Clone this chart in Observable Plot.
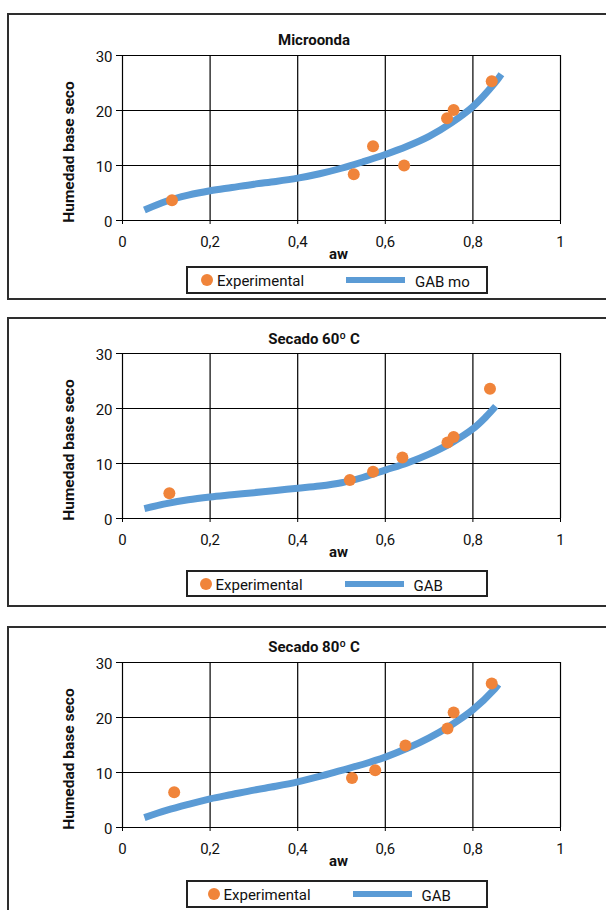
<!DOCTYPE html>
<html>
<head>
<meta charset="utf-8">
<script src="https://cdn.jsdelivr.net/npm/d3@7"></script>
<script src="https://cdn.jsdelivr.net/npm/@observablehq/plot@0.6"></script>
<style>
  body { margin: 0; background: #fff; font-family: Roboto, "Liberation Sans", sans-serif; color: #111; }
  #page { position: relative; width: 606px; height: 910px; overflow: hidden; }
  .box { position: absolute; left: 7px; width: 640px; border: 2px solid #2e2e2e; box-sizing: border-box; }
  .title { position: absolute; left: 214px; width: 200px; text-align: center; font-weight: bold; font-size: 15px; line-height: 18px; }
  .plot { position: absolute; left: 0; }
  .legend { position: absolute; left: 186px; width: 302px; border: 2px solid #222; box-sizing: border-box; background: #fff; }
  .legend .dot { position: absolute; width: 12px; height: 12px; border-radius: 50%; background: #F0843A; }
  .legend .sw { position: absolute; height: 6px; background: #5B9BD5; }
  .legend .lab { position: absolute; font-size: 15px; line-height: 18px; white-space: nowrap; }
</style>
</head>
<body>
<div id="page"></div>
<script>
// ---- shared axis values ----
const awTicks = [0, 0.2, 0.4, 0.6, 0.8, 1];
const yTicks = [0, 10, 20, 30];
const xLabel = "aw";
const yLabel = "Humedad base seco";
const expLabel = "Experimental";

// ---- Panel 1: Microonda ----
const microTitle = "Microonda";
const microGabLabel = "GAB mo";
const microExpAw = [0.113, 0.528, 0.572, 0.643, 0.741, 0.756, 0.843];
const microExpM  = [3.7, 8.4, 13.5, 10.0, 18.6, 20.1, 25.3];
const microGabAw = [0.05, 0.1, 0.15, 0.2, 0.25, 0.3, 0.35, 0.4, 0.45, 0.5, 0.55, 0.6, 0.65, 0.7, 0.75, 0.8, 0.85, 0.865];
const microGabM  = [1.9, 3.5, 4.6, 5.4, 6.0, 6.6, 7.1, 7.7, 8.5, 9.5, 10.7, 12.0, 13.5, 15.3, 17.7, 20.7, 25.0, 26.6];

// ---- Panel 2: Secado 60º C ----
const s60Title = "Secado 60º C";
const s60GabLabel = "GAB";
const s60ExpAw = [0.107, 0.519, 0.572, 0.639, 0.742, 0.756, 0.839];
const s60ExpM  = [4.6, 7.0, 8.5, 11.1, 13.8, 14.8, 23.6];
const s60GabAw = [0.05, 0.1, 0.15, 0.2, 0.25, 0.3, 0.35, 0.4, 0.45, 0.5, 0.55, 0.6, 0.65, 0.7, 0.75, 0.8, 0.83, 0.852];
const s60GabM  = [1.8, 2.7, 3.4, 3.9, 4.3, 4.7, 5.1, 5.5, 5.9, 6.5, 7.5, 8.8, 10.1, 11.7, 13.7, 16.3, 18.5, 20.4];

// ---- Panel 3: Secado 80º C ----
const s80Title = "Secado 80º C";
const s80GabLabel = "GAB";
const s80ExpAw = [0.118, 0.524, 0.577, 0.646, 0.742, 0.756, 0.843];
const s80ExpM  = [6.4, 9.0, 10.4, 14.9, 18.0, 20.9, 26.2];
const s80GabAw = [0.05, 0.1, 0.15, 0.2, 0.25, 0.3, 0.35, 0.4, 0.45, 0.5, 0.55, 0.6, 0.65, 0.7, 0.75, 0.8, 0.85, 0.858];
const s80GabM  = [1.8, 3.1, 4.2, 5.2, 6.0, 6.8, 7.5, 8.3, 9.3, 10.4, 11.5, 12.8, 14.4, 16.3, 18.6, 21.4, 25.2, 26.0];

// ---- layout (pixels) ----
const panels = [
  {title: microTitle, gab: microGabLabel, expAw: microExpAw, expM: microExpM, gabAw: microGabAw, gabM: microGabM,
   boxTop: 13, boxH: 287, titleY: 40, plotTop: 55, legTop: 266, legH: 28, legShift: 0},
  {title: s60Title, gab: s60GabLabel, expAw: s60ExpAw, expM: s60ExpM, gabAw: s60GabAw, gabM: s60GabM,
   boxTop: 317, boxH: 290, titleY: 339, plotTop: 353, legTop: 570, legH: 27, legShift: -1.5},
  {title: s80Title, gab: s80GabLabel, expAw: s80ExpAw, expM: s80ExpM, gabAw: s80GabAw, gabM: s80GabM,
   boxTop: 626, boxH: 320, titleY: 647, plotTop: 662, legTop: 880, legH: 28, legShift: 6.5}
];

const page = document.getElementById("page");
const MT = 10, MB = 50, PH = 165;

for (const p of panels) {
  const box = document.createElement("div");
  box.className = "box";
  box.style.top = p.boxTop + "px";
  box.style.height = p.boxH + "px";
  page.appendChild(box);

  const t = document.createElement("div");
  t.className = "title";
  t.textContent = p.title;
  t.style.top = (p.titleY - 9) + "px";
  page.appendChild(t);

  const pts = p.expAw.map((a, i) => ({aw: a, m: p.expM[i]}));
  const gab = p.gabAw.map((a, i) => ({aw: a, m: p.gabM[i]}));

  const chart = Plot.plot({
    width: 606,
    height: MT + PH + MB,
    marginLeft: 122, marginRight: 46, marginTop: MT, marginBottom: MB,
    style: {fontFamily: "Roboto, sans-serif", fontSize: "15px", color: "#111", background: "transparent", overflow: "visible"},
    x: {domain: [0, 1]},
    y: {domain: [0, 30]},
    marks: [
      Plot.gridX(awTicks, {stroke: "#000", strokeOpacity: 1, strokeWidth: 1.2}),
      Plot.gridY(yTicks, {stroke: "#000", strokeOpacity: 1, strokeWidth: 1.2}),
      Plot.axisX(awTicks, {tickSize: 4, text: null, label: null, stroke: "#000"}),
      Plot.axisX(awTicks, {tickSize: 0, tickPadding: 16, label: null, fontSize: 15,
        tickFormat: d => String(d).replace(".", ",")}),
      Plot.axisY(yTicks, {tickSize: 6, text: null, label: null, stroke: "#000"}),
      Plot.axisY(yTicks, {tickSize: 0, tickPadding: 10, label: null, fontSize: 15, dy: 2}),
      Plot.line(gab, {x: "aw", y: "m", stroke: "#5B9BD5", strokeWidth: 7, curve: "catmull-rom", strokeLinecap: "butt"}),
      Plot.dot(pts, {x: "aw", y: "m", r: 6, fill: "#F0843A"}),
      Plot.text([xLabel], {frameAnchor: "bottom", dy: 38, dx: -3, fontWeight: "bold", fontSize: 15}),
      Plot.text([yLabel], {frameAnchor: "left", textAnchor: "middle", lineAnchor: "middle", rotate: -90,
        dx: -53, dy: 14, fontWeight: "bold", fontSize: 15.5})
    ]
  });
  chart.classList.add("plot");
  chart.style.top = (p.plotTop - MT) + "px";
  page.appendChild(chart);

  const leg = document.createElement("div");
  leg.className = "legend";
  leg.style.top = p.legTop + "px";
  leg.style.height = p.legH + "px";
  const s = p.legShift;
  const cy = p.legH / 2 - 2;
  leg.innerHTML =
    `<div class="dot" style="left:${13 + s}px;top:${cy - 6}px"></div>` +
    `<div class="lab" style="left:${29 + s}px;top:${cy - 8}px">${expLabel}</div>` +
    `<div class="sw" style="left:${158 + s}px;width:59px;top:${cy - 3}px"></div>` +
    `<div class="lab" style="left:${227 + s}px;top:${cy - 7}px">${p.gab}</div>`;
  page.appendChild(leg);
}
</script>
</body>
</html>
